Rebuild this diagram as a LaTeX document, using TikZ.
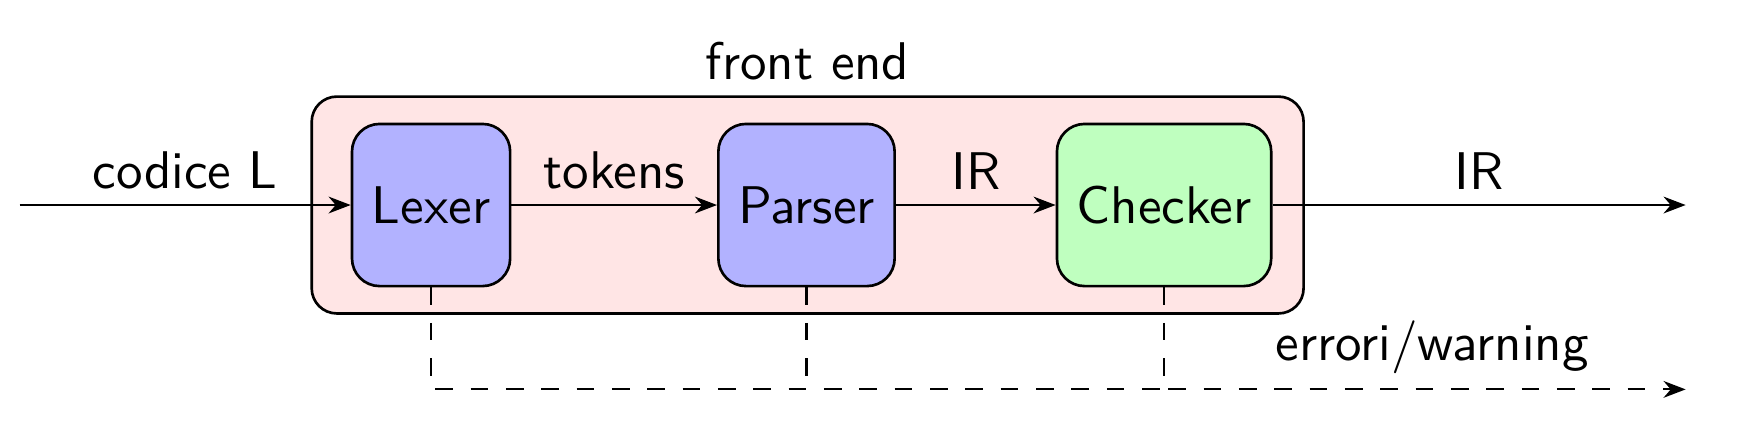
\documentclass[tikz,border=0pt]{standalone}
\usepackage{fontspec}
\setsansfont{lmsans10-regular.otf}
\usetikzlibrary{positioning,fit,backgrounds,arrows.meta}
\begin{document}
\begin{tikzpicture}
[
font=\sffamily\large,
phase/.style={rectangle, rounded corners=0.22cm, draw=black, semithick, minimum height=1.29cm, inner xsep=4.5pt},
lexphase/.style={phase, fill=blue!30},
chkphase/.style={phase, fill=green!25},
frontbox/.style={rectangle, rounded corners=0.2cm, draw=black, semithick, fill=red!10, inner sep=0},
flow/.style={line width=0.5pt, -{Stealth[length=5pt,width=3.8pt]}},
errflow/.style={line width=0.5pt, dash pattern=on 4pt off 4pt},
errarrow/.style={errflow, -{Stealth[length=5pt,width=3.8pt]}}
]
\useasboundingbox (0,-1.838) rectangle (14.0,1.631);
%Nodes
\node[lexphase]  (lexer)    at (3.429,0)                {Lexer};
\node[lexphase]  (parser)   [right=1.635cm of lexer]    {Parser};
\node[chkphase]  (checker)  [right=1.27cm of parser]    {Checker};
\node[coordinate] (src)     [left=2.633cm of lexer]     {};
\node[coordinate] (dst)     [right=3.286cm of checker]  {};
\coordinate      (errdst)   at ([yshift=-0.811cm]dst |- lexer.south);

%front end box
\coordinate (fenw) at ([shift={(-0.31,0.207)}]lexer.north west);
\coordinate (fese) at ([shift={(0.247,-0.207)}]checker.south east);
\begin{scope}[on background layer]
\node[frontbox, fit=(fenw)(fese), label=above:front end] (frontend) {};
\end{scope}

%Lines
\draw[flow] (src) -- node[above] {codice L} (lexer);
\draw[flow] (lexer) -- node[above] {tokens} (parser);
\draw[flow] (parser) -- node[above] {IR} (checker);
\draw[flow] (checker) -- node[above] {IR} (dst);
\draw[errflow] (lexer.south) |- (checker.south |- errdst);
\draw[errflow] (parser.south) -- (parser.south |- errdst);
\draw[errarrow] (checker.south) |- node[pos=0.757, above] {errori/warning} (errdst);

\end{tikzpicture}
\end{document}
